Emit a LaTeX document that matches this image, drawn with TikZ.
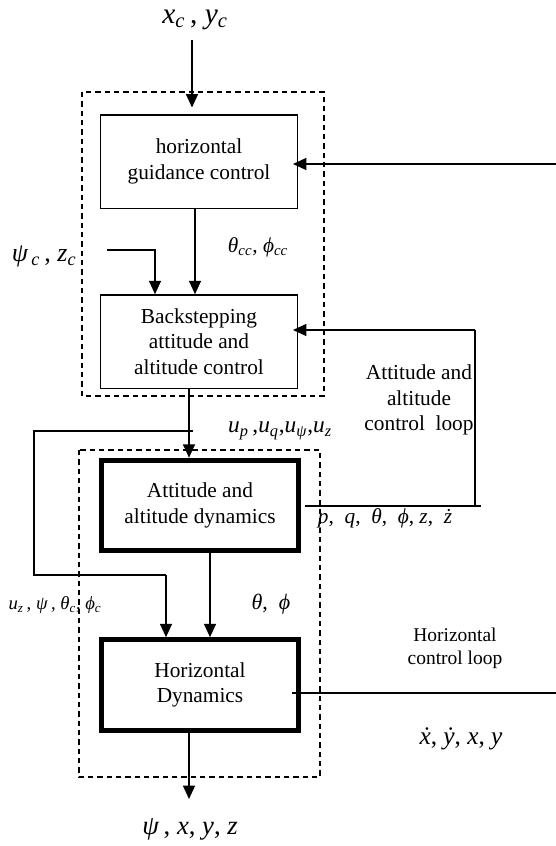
\documentclass[tikz,border=0pt]{standalone}
\usepackage{fontspec}
\setmainfont{Liberation Serif}
\usetikzlibrary{arrows.meta}
\newcommand{\mv}[1]{\textit{#1}}
\newcommand{\sbs}[1]{\textsubscript{\textit{#1}}}
\newcommand{\ph}{\textit{ϕ}}
\tikzset{
  x=0.75pt, y=-0.75pt,
  every node/.style={font=\fontsize{16}{19}\selectfont, inner sep=0pt, align=center},
  thinbox/.style={draw, line width=1pt, minimum width=148pt, minimum height=70pt},
  thickbox/.style={draw, line width=3.75pt, minimum width=148pt, minimum height=68pt},
  dbox/.style={draw, line width=0.9pt, dash pattern=on 4pt off 3pt},
  wire/.style={line width=1pt},
  arr/.style={line width=1pt, -{Triangle[length=10pt,width=9pt]}},
  small/.style={font=\fontsize{14.6}{17.5}\selectfont},
}
\begin{document}
\begin{tikzpicture}
\useasboundingbox (0,0) rectangle (556,846);
% dashed enclosures
\draw[dbox] (82,92) rectangle (324,396);
\draw[dbox] (79,450) rectangle (320,777);
% blocks
\node[thinbox] (b1) at (199,161.5) {horizontal\\guidance control};
\node[thinbox] (b2) at (199,341.5) {Backstepping\\attitude and\\altitude control};
\node[thickbox] (b3) at (200,505.5) {Attitude and\\altitude dynamics};
\node[thickbox] (b4) at (200,685) {Horizontal\\Dynamics};
% labels
\node[font=\fontsize{22}{26}\selectfont] (xy) at (195,20) {\mv{x}\sbs{c}\,, \mv{y}\sbs{c}};
\node[font=\fontsize{19.5}{23}\selectfont] (pz) at (44,256) {\mv{ψ}\sbs{\,c}\,, \mv{z}\sbs{c}};
\node[font=\fontsize{16}{19}\selectfont] (tcc) at (258,247) {\mv{θ}\sbs{cc}, \ph\sbs{cc}};
\node[font=\fontsize{17.5}{21}\selectfont] (uu) at (280,431) {\mv{u}\sbs{p}\,,\mv{u}\sbs{q},\mv{u}\sbs{ψ},\mv{u}\sbs{z}};
\node (al) at (419,400) {Attitude and\\altitude\\control\ \ loop};
\node[font=\fontsize{16}{19}\selectfont] (pq) at (385,518) {\mv{p}, \ \mv{q}, \ \mv{θ}, \ \ph, \mv{z}, \ \mv{\.z}};
\node[font=\fontsize{14}{17}\selectfont] (uz) at (55,605) {\mv{u}\sbs{z}\,, \mv{ψ}\,, \mv{θ}\sbs{c}, \ph\sbs{c}};
\node[font=\fontsize{16.5}{20}\selectfont] (tp) at (271,604) {\mv{θ}, \ \ph};
\node[small] (hl) at (455,648) {Horizontal\\control loop};
\node[font=\fontsize{19}{22}\selectfont] (xd) at (461,739) {\mv{\.x}, \mv{\.y}, \mv{x}, \mv{y}};
\node[font=\fontsize{20}{24}\selectfont] (out) at (190,829) {\mv{ψ}\,, \mv{x}, \mv{y}, \mv{z}};
% coordinates
\coordinate (rin) at (556,164);
\coordinate (c1) at (195,0);
\coordinate (pzs) at (107,250);
\coordinate (pzb) at (155,250);
\coordinate (al1) at (475,330);
\coordinate (al2) at (475,506);
\coordinate (al3) at (305,506);
\coordinate (al4) at (481,506);
\coordinate (c2) at (189,0);
\coordinate (f1) at (193,431);
\coordinate (f2) at (34,431);
\coordinate (f3) at (34,575);
\coordinate (f4) at (166,575);
\coordinate (c3) at (210,0);
\coordinate (oend) at (189,799);
\coordinate (hr) at (556,693);
\coordinate (hs) at (292,693);
\coordinate (xin) at (192,40);
% connectors
\draw[arr, shorten >=5pt] (xin) -- (xin |- b1.north);
\draw[arr, shorten >=-4pt] (rin) -- (rin -| b1.east);
\draw[arr] (b1.south -| c1) -- (b2.north -| c1);
\draw[arr] (pzs) -- (pzb) -- (pzb |- b2.north);
\draw[arr, shorten >=-4pt] (al1) -- (al1 -| b2.east);
\draw[wire] (al1) -- (al2);
\draw[wire] (al3) -- (al4);
\draw[arr] (b2.south -| c2) -- (b3.north -| c2);
\draw[wire] (f1) -- (f2) -- (f3) -- (f4);
\draw[arr] (f4) -- (f4 |- b4.north);
\draw[arr] (b3.south -| c3) -- (b4.north -| c3);
\draw[arr] (b4.south -| oend) -- (oend);
\draw[wire] (hs) -- (hr);
\end{tikzpicture}
\end{document}
